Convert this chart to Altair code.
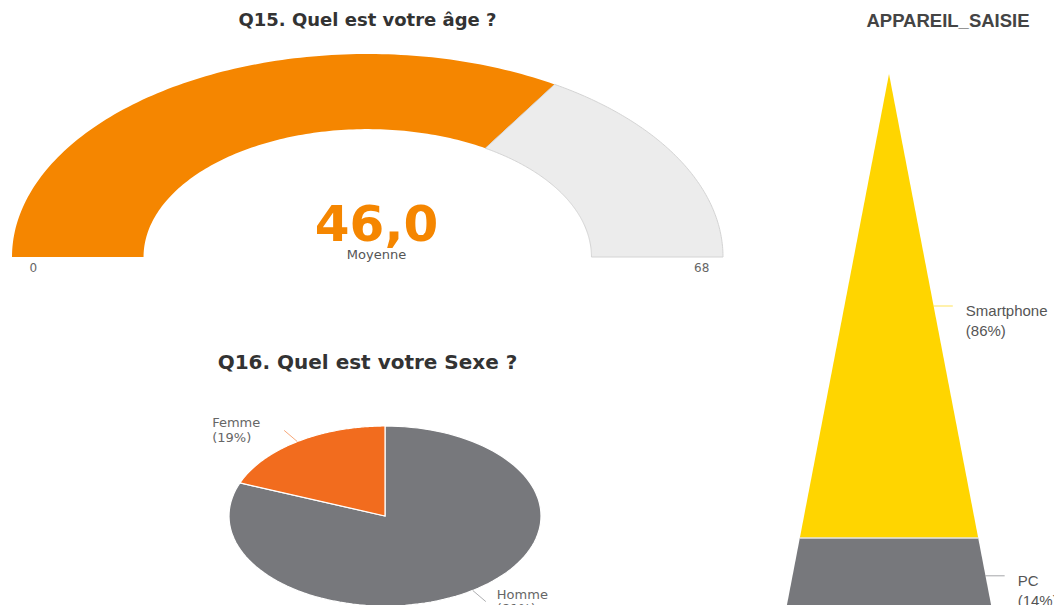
import altair as alt
import pandas as pd

# ---------------- data ----------------
AGE_TITLE = "Q15. Quel est votre âge ?"
AGE_MIN = 0
AGE_MAX = 68
AGE_MEAN = 46.0
AGE_CAPTION = "Moyenne"
gauge_parts = ["Moyenne", "Reste"]
gauge_colors = ["#F58600", "#ECECEC"]

SEXE_TITLE = "Q16. Quel est votre Sexe ?"
sexe_labels = ["Homme", "Femme"]
sexe_values = [81, 19]
sexe_colors = ["#77787C", "#F26C1E"]

DEVICE_TITLE = "APPAREIL_SAISIE"
device_labels = ["Smartphone", "PC"]
device_values = [86, 14]
device_colors = ["#FFD500", "#77787C"]

# ---------------- geometry / layout settings ----------------
N = 120          # arc sampling resolution
INNER = 0.63     # inner radius of the gauge band
LEFT_W = 719
GAUGE_H = 203
PIE_H = 179
PYR_W = 314
PYR_H = 551

TXT = "#555555"

# ---------------- Q15 gauge ----------------
gauge_df = pd.DataFrame({
    "part": gauge_parts,
    "start": [AGE_MIN, AGE_MEAN],
    "end": [AGE_MEAN, AGE_MAX],
})
gx = alt.Scale(domain=[-1.01125, 1.01125], nice=False, zero=False)
gy = alt.Scale(domain=[0, 1], nice=False, zero=False)

gauge_shape = alt.Chart(gauge_df).transform_calculate(
    i=f"sequence(0, {2 * N + 2})"
).transform_flatten(["i"]).transform_calculate(
    outer=f"datum.i <= {N}",
    t=f"datum.i <= {N} ? datum.i / {N} : ({2 * N + 1} - datum.i) / {N}",
    v="datum.start + (datum.end - datum.start) * datum.t",
    r=f"datum.outer ? 1 : {INNER}",
    phi=f"PI * (datum.v - {AGE_MIN}) / {AGE_MAX - AGE_MIN}",
    px="-datum.r * cos(datum.phi)",
    py="datum.r * sin(datum.phi)",
)

gauge_fill = gauge_shape.mark_line(
    filled=True, interpolate="linear-closed", strokeWidth=0
).encode(
    x=alt.X("px:Q", scale=gx, axis=None),
    y=alt.Y("py:Q", scale=gy, axis=None),
    order="i:Q",
    color=alt.Color("part:N", scale=alt.Scale(domain=gauge_parts, range=gauge_colors), legend=None),
)
gauge_outline = gauge_shape.transform_filter(
    f"datum.part == '{gauge_parts[1]}'"
).mark_line(interpolate="linear-closed", color="#D4D4D4", strokeWidth=1).encode(
    x="px:Q", y="py:Q", order="i:Q"
)

mean_text = alt.Chart(pd.DataFrame({"label": [f"{AGE_MEAN:.1f}".replace(".", ",")]})).mark_text(
    font="DejaVu Sans", fontSize=50, fontWeight="bold", color="#F58600",
    baseline="alphabetic", dx=9, dy=-16,
).encode(x=alt.datum(0), y=alt.datum(0), text="label:N")

caption_text = alt.Chart(pd.DataFrame({"label": [AGE_CAPTION]})).mark_text(
    font="DejaVu Sans", fontSize=13, color=TXT, baseline="alphabetic", dx=9, dy=2,
).encode(x=alt.datum(0), y=alt.datum(0), text="label:N")

bound_text = alt.Chart(pd.DataFrame({"v": [AGE_MIN, AGE_MAX]})).transform_calculate(
    px=f"datum.v == {AGE_MIN} ? -0.94 : 0.94",
    label="format(datum.v, 'd')",
).mark_text(font="DejaVu Sans", fontSize=12, color="#666666", baseline="middle", dy=11).encode(
    x="px:Q", y=alt.datum(0), text="label:N"
)

gauge = alt.layer(gauge_fill, gauge_outline, mean_text, caption_text, bound_text).properties(
    width=LEFT_W, height=GAUGE_H,
    title=alt.TitleParams(AGE_TITLE, font="DejaVu Sans", fontSize=18, fontWeight="bold",
                          color="#333333", anchor="middle", frame="group", offset=24),
)

# ---------------- Q16 pie ----------------
sexe_df = pd.DataFrame({"label": sexe_labels, "value": sexe_values, "k": list(range(len(sexe_labels)))})
px_pie = alt.Scale(domain=[-2.4167, 2.1923], nice=False, zero=False)
py_pie = alt.Scale(domain=[-0.9889, 1], nice=False, zero=False)
sexe_color = alt.Scale(domain=sexe_labels, range=sexe_colors)

pie_base = alt.Chart(sexe_df).transform_joinaggregate(
    total="sum(value)"
).transform_window(
    cum="sum(value)", sort=[alt.SortField("k")], frame=[None, 0]
).transform_calculate(
    a0="2 * PI * (datum.cum - datum.value) / datum.total",
    a1="2 * PI * datum.cum / datum.total",
    mid="(datum.a0 + datum.a1) / 2",
    pct="'(' + format(datum.value / datum.total, '.0%') + ')'",
)

pie_shape = pie_base.transform_calculate(
    i=f"sequence(0, {N + 2})"
).transform_flatten(["i"]).transform_calculate(
    ang=f"datum.a0 + (datum.a1 - datum.a0) * (datum.i - 1) / {N}",
    r="datum.i == 0 ? 0 : 1",
    px="datum.r * sin(datum.ang)",
    py="datum.r * cos(datum.ang)",
).mark_line(
    filled=True, interpolate="linear-closed", stroke="white", strokeWidth=1.2, clip=True
).encode(
    x=alt.X("px:Q", scale=px_pie, axis=None),
    y=alt.Y("py:Q", scale=py_pie, axis=None),
    order="i:Q",
    color=alt.Color("label:N", scale=sexe_color, legend=None),
)

pie_lab = pie_base.transform_calculate(
    lx0="sin(datum.mid)", ly0="cos(datum.mid)",
    lx1="1.15 * sin(datum.mid)", ly1="1.15 * cos(datum.mid)",
)
pie_leader = pie_lab.mark_rule(strokeWidth=1, opacity=0.6).encode(
    x="lx0:Q", y="ly0:Q", x2="lx1:Q", y2="ly1:Q",
    color=alt.Color("label:N", scale=sexe_color, legend=None),
)
lab_style = dict(font="DejaVu Sans", fontSize=13, color="#666666", baseline="middle", align="left")
pie_right1 = pie_lab.transform_filter("datum.lx1 >= 0").mark_text(dx=11, dy=-7, **lab_style).encode(
    x="lx1:Q", y="ly1:Q", text="label:N")
pie_right2 = pie_lab.transform_filter("datum.lx1 >= 0").mark_text(
    dx=11, dy=7, clip=True, **lab_style).encode(x="lx1:Q", y="ly1:Q", text="pct:N")
pie_left1 = pie_lab.transform_filter("datum.lx1 < 0").mark_text(dx=-72, dy=-7, **lab_style).encode(
    x="lx1:Q", y="ly1:Q", text="label:N")
pie_left2 = pie_lab.transform_filter("datum.lx1 < 0").mark_text(dx=-72, dy=8, **lab_style).encode(
    x="lx1:Q", y="ly1:Q", text="pct:N")

pie = alt.layer(pie_shape, pie_leader, pie_right1, pie_right2, pie_left1, pie_left2).properties(
    width=LEFT_W, height=PIE_H,
    title=alt.TitleParams(SEXE_TITLE, font="DejaVu Sans", fontSize=20, fontWeight="bold",
                          color="#333333", anchor="middle", frame="group", offset=44),
)

# ---------------- APPAREIL_SAISIE pyramid ----------------
dev_df = pd.DataFrame({"label": device_labels, "value": device_values, "k": list(range(len(device_labels)))})
px_pyr = alt.Scale(domain=[-143.7, 159.1], nice=False, zero=False)
py_pyr = alt.Scale(domain=[-3.707, 98.42], reverse=True, nice=False, zero=False)
dev_color = alt.Scale(domain=device_labels, range=device_colors)

dev_base = alt.Chart(dev_df).transform_joinaggregate(
    total="sum(value)"
).transform_window(
    cum="sum(value)", sort=[alt.SortField("k")], frame=[None, 0]
).transform_calculate(
    c1="100 * datum.cum / datum.total",
    c0="100 * (datum.cum - datum.value) / datum.total",
    m="(datum.c0 + datum.c1) / 2",
    pct="'(' + format(datum.value / datum.total, '.0%') + ')'",
)

pyr_area = dev_base.transform_fold(["c0", "c1"], as_=["edge", "level"]).transform_calculate(
    neg="-datum.level"
).mark_area(orient="horizontal", clip=True).encode(
    y=alt.Y("level:Q", scale=py_pyr, axis=None),
    x=alt.X("neg:Q", scale=px_pyr, axis=None),
    x2="level:Q",
    color=alt.Color("label:N", scale=dev_color, legend=None),
)
pyr_sep = dev_base.transform_filter("datum.c0 > 0").transform_calculate(
    neg0="-datum.c0"
).mark_rule(color="#E4E4E4", strokeWidth=1.5).encode(x="neg0:Q", x2="c0:Q", y="c0:Q")

pyr_lab = dev_base.transform_calculate(lx1="datum.m + 18.5")
pyr_leader = pyr_lab.mark_rule(strokeWidth=1.2, opacity=0.55).encode(
    x="m:Q", x2="lx1:Q", y="m:Q",
    color=alt.Color("label:N", scale=dev_color, legend=None),
)
pstyle = dict(font="Liberation Sans", fontSize=15, color=TXT, baseline="middle",
              align="left", dx=13, clip=True)
pyr_t1 = pyr_lab.mark_text(dy=5, **pstyle).encode(x="lx1:Q", y="m:Q", text="label:N")
pyr_t2 = pyr_lab.mark_text(dy=25, **pstyle).encode(x="lx1:Q", y="m:Q", text="pct:N")

pyramid = alt.layer(pyr_area, pyr_sep, pyr_leader, pyr_t1, pyr_t2).properties(
    width=PYR_W, height=PYR_H,
    title=alt.TitleParams(DEVICE_TITLE, font="Liberation Sans", fontSize=18.5, fontWeight="bold",
                          color="#444444", anchor="middle", frame="group", offset=23.5, dx=51),
)

left = alt.vconcat(gauge, pie, spacing=169, bounds="flush").resolve_scale(color="independent")
chart = alt.hconcat(left, pyramid, spacing=13).resolve_scale(color="independent").properties(
    padding={"left": 0, "top": 4, "right": 0, "bottom": 0}
).configure_view(strokeWidth=0)

chart.save("out.html", embed_options={"renderer": "svg", "actions": False})
